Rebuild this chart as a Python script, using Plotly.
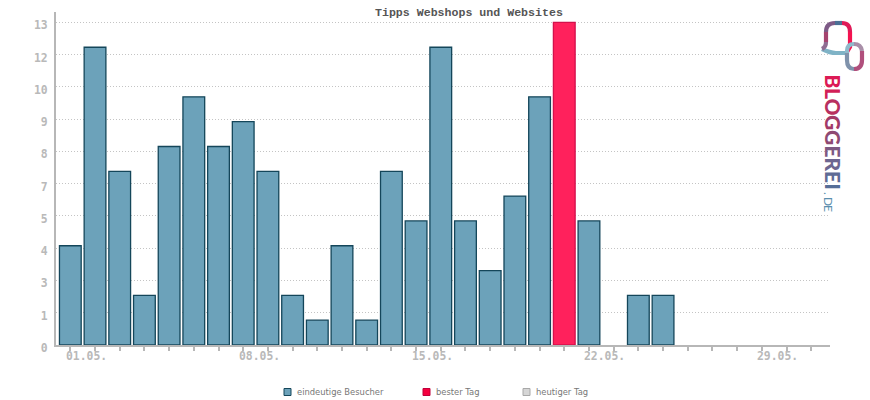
import plotly.graph_objects as go

days = ["%02d.05." % d for d in range(1, 32)]
visitors = [4, 12, 7, 2, 8, 10, 8, 9, 7, 2, 1, 4, 1, 7, 5, 12, 5, 3, 6, 10, 13, 5, 0, 2, 2, 0, 0, 0, 0, 0, 0]
best_day = "21.05."

y_ticks = [0, 1.3, 2.6, 3.9, 5.2, 6.5, 7.8, 9.1, 10.4, 11.7, 13]
y_labels = ["0", "1", "3", "4", "5", "7", "8", "9", "10", "12", "13"]
x_labels = ["01.05.", "08.05.", "15.05.", "22.05.", "29.05."]

legend_names = ["eindeutige Besucher", "bester Tag", "heutiger Tag"]
legend_fill = ["#6ca2ba", "#f5003f", "#d6d6d6"]
legend_line = ["#14465a", "#c0003a", "#a8a8a8"]
legend_x = [284, 423, 523]

W, H = 870, 400
L, R, T, B = 56, 830, 12, 345
MONO = "Liberation Mono"
TICKFONT = dict(family="DejaVu Sans Mono", size=11.4, color="#b9b9b9", weight="bold")
AXIS = "#b7b7b7"

# pixel -> paper helpers, used for logo and legend only
def px(x):
    return (x - L) / (R - L)

def py(y):
    return (B - y) / (B - T)

colors = ["#ff215c" if d == best_day else "#6ca2ba" for d in days]
lines = ["#d3114c" if d == best_day else "#14465a" for d in days]
line_w = [1.3 if v > 0 else 0 for v in visitors]

fig = go.Figure()
fig.add_trace(go.Bar(
    x=days, y=visitors, width=0.88,
    marker=dict(color=colors, line=dict(color=lines, width=line_w)),
    showlegend=False,
))

annotations = []
for lab in x_labels:
    annotations.append(dict(x=lab, y=0, xref="x", yref="y", text=lab, showarrow=False,
                            xshift=16, yshift=-11, xanchor="center", yanchor="middle",
                            font=TICKFONT))

annotations.append(dict(x=px(469), y=py(12), xref="paper", yref="paper", showarrow=False,
                        text="Tipps Webshops und Websites", xanchor="center", yanchor="middle",
                        font=dict(family=MONO, size=11.6, color="#555555", weight="bold")))

shapes = []
# legend
for name, fill, line, x in zip(legend_names, legend_fill, legend_line, legend_x):
    shapes.append(dict(type="rect", xref="paper", yref="paper", x0=px(x), x1=px(x + 7),
                       y0=py(395.5), y1=py(388.5), fillcolor=fill, line=dict(color=line, width=1)))
    annotations.append(dict(x=px(x + 11), y=py(392), xref="paper", yref="paper", text=name,
                            showarrow=False, xanchor="left", yanchor="middle",
                            font=dict(family="DejaVu Sans", size=8.4, color="#777777")))

# logo, made of coloured stroke pieces
def pth(cmds):
    out = []
    for c in cmds:
        if isinstance(c, str):
            out.append(c)
        else:
            out.append("%.5f,%.5f" % (px(c[0]), py(c[1])))
    return " ".join(out)

logo = [
    ("#7fb3c6", ["M", (822, 49), "Q", (830, 53), (836, 53), "L", (846, 53)]),
    ("#8f6d92", ["M", (822, 49), "Q", (826, 47), (826, 42)]),
    ("#a5436f", ["M", (826, 42), "L", (826, 32)]),
    ("#7d5a86", ["M", (826, 32), "Q", (826, 23), (835, 23)]),
    ("#4a6f95", ["M", (835, 23), "L", (842, 23)]),
    ("#e01a58", ["M", (842, 23), "Q", (850, 23), (850, 32)]),
    ("#f5124f", ["M", (850, 32), "L", (850, 47), "L", (847, 52)]),
    ("#8fbacb", ["M", (847, 53), "L", (847, 51), "Q", (847, 44), (854, 44)]),
    ("#a98fa8", ["M", (854, 44), "Q", (861, 44), (862, 51)]),
    ("#b04f7c", ["M", (862, 51), "L", (862, 60), "Q", (862, 69), (854, 69)]),
    ("#7f92ab", ["M", (854, 69), "Q", (847, 69), (847, 60), "L", (847, 53)]),
]
for col, cmds in logo:
    shapes.append(dict(type="path", xref="paper", yref="paper", path=pth(cmds),
                       line=dict(color=col, width=4.2)))

logo_letters = ["B", "L", "O", "G", "G", "E", "R", "E", "I", ".", "D", "E"]
logo_y = [81, 93.5, 107, 122.5, 137.5, 151, 164, 176.5, 186, 193, 201, 208]
logo_cols = ["#dc1a55", "#d21f57", "#b8305f", "#a33a68", "#8f4a72", "#7d5a82", "#6d6690",
             "#5f6c95", "#566e97", "#5b8fae", "#5b8fae", "#5b8fae"]
logo_size = [21, 21, 21, 21, 21, 21, 21, 21, 21, 12, 12, 12]
for ch, y, col, sz in zip(logo_letters, logo_y, logo_cols, logo_size):
    bold = sz > 15
    annotations.append(dict(x=px(833.5 if bold else 829), y=py(y), xref="paper", yref="paper", text=ch,
                            showarrow=False, textangle=90, xanchor="center", yanchor="middle",
                            font=dict(family="Lato", size=sz, color=col, weight=900 if bold else "normal")))

fig.update_layout(
    width=W, height=H,
    margin=dict(l=L, r=W - R, t=T, b=H - B, pad=0),
    paper_bgcolor="white", plot_bgcolor="white",
    bargap=0.12, showlegend=False,
    annotations=annotations, shapes=shapes,
    xaxis=dict(type="category", categoryorder="array", categoryarray=days,
               range=[-0.58, 30.76], showgrid=False, zeroline=False,
               showline=True, linecolor=AXIS, linewidth=2,
               ticks="outside", ticklen=4, tickcolor=AXIS, tickwidth=1.5,
               tickvals=days, showticklabels=False),
    yaxis=dict(range=[0, 13.42], tickvals=y_ticks, ticktext=y_labels,
               showgrid=True, gridcolor="#c4c4c4", griddash="1px,2px", gridwidth=1,
               zeroline=False, showline=True, linecolor=AXIS, linewidth=2,
               ticks="outside", ticklen=4, tickcolor="rgba(0,0,0,0)",
               ticklabelshift=3, tickfont=TICKFONT),
)

fig.write_html("out.html", post_script="document.body.style.margin='0';",
               config={"displayModeBar": False})
